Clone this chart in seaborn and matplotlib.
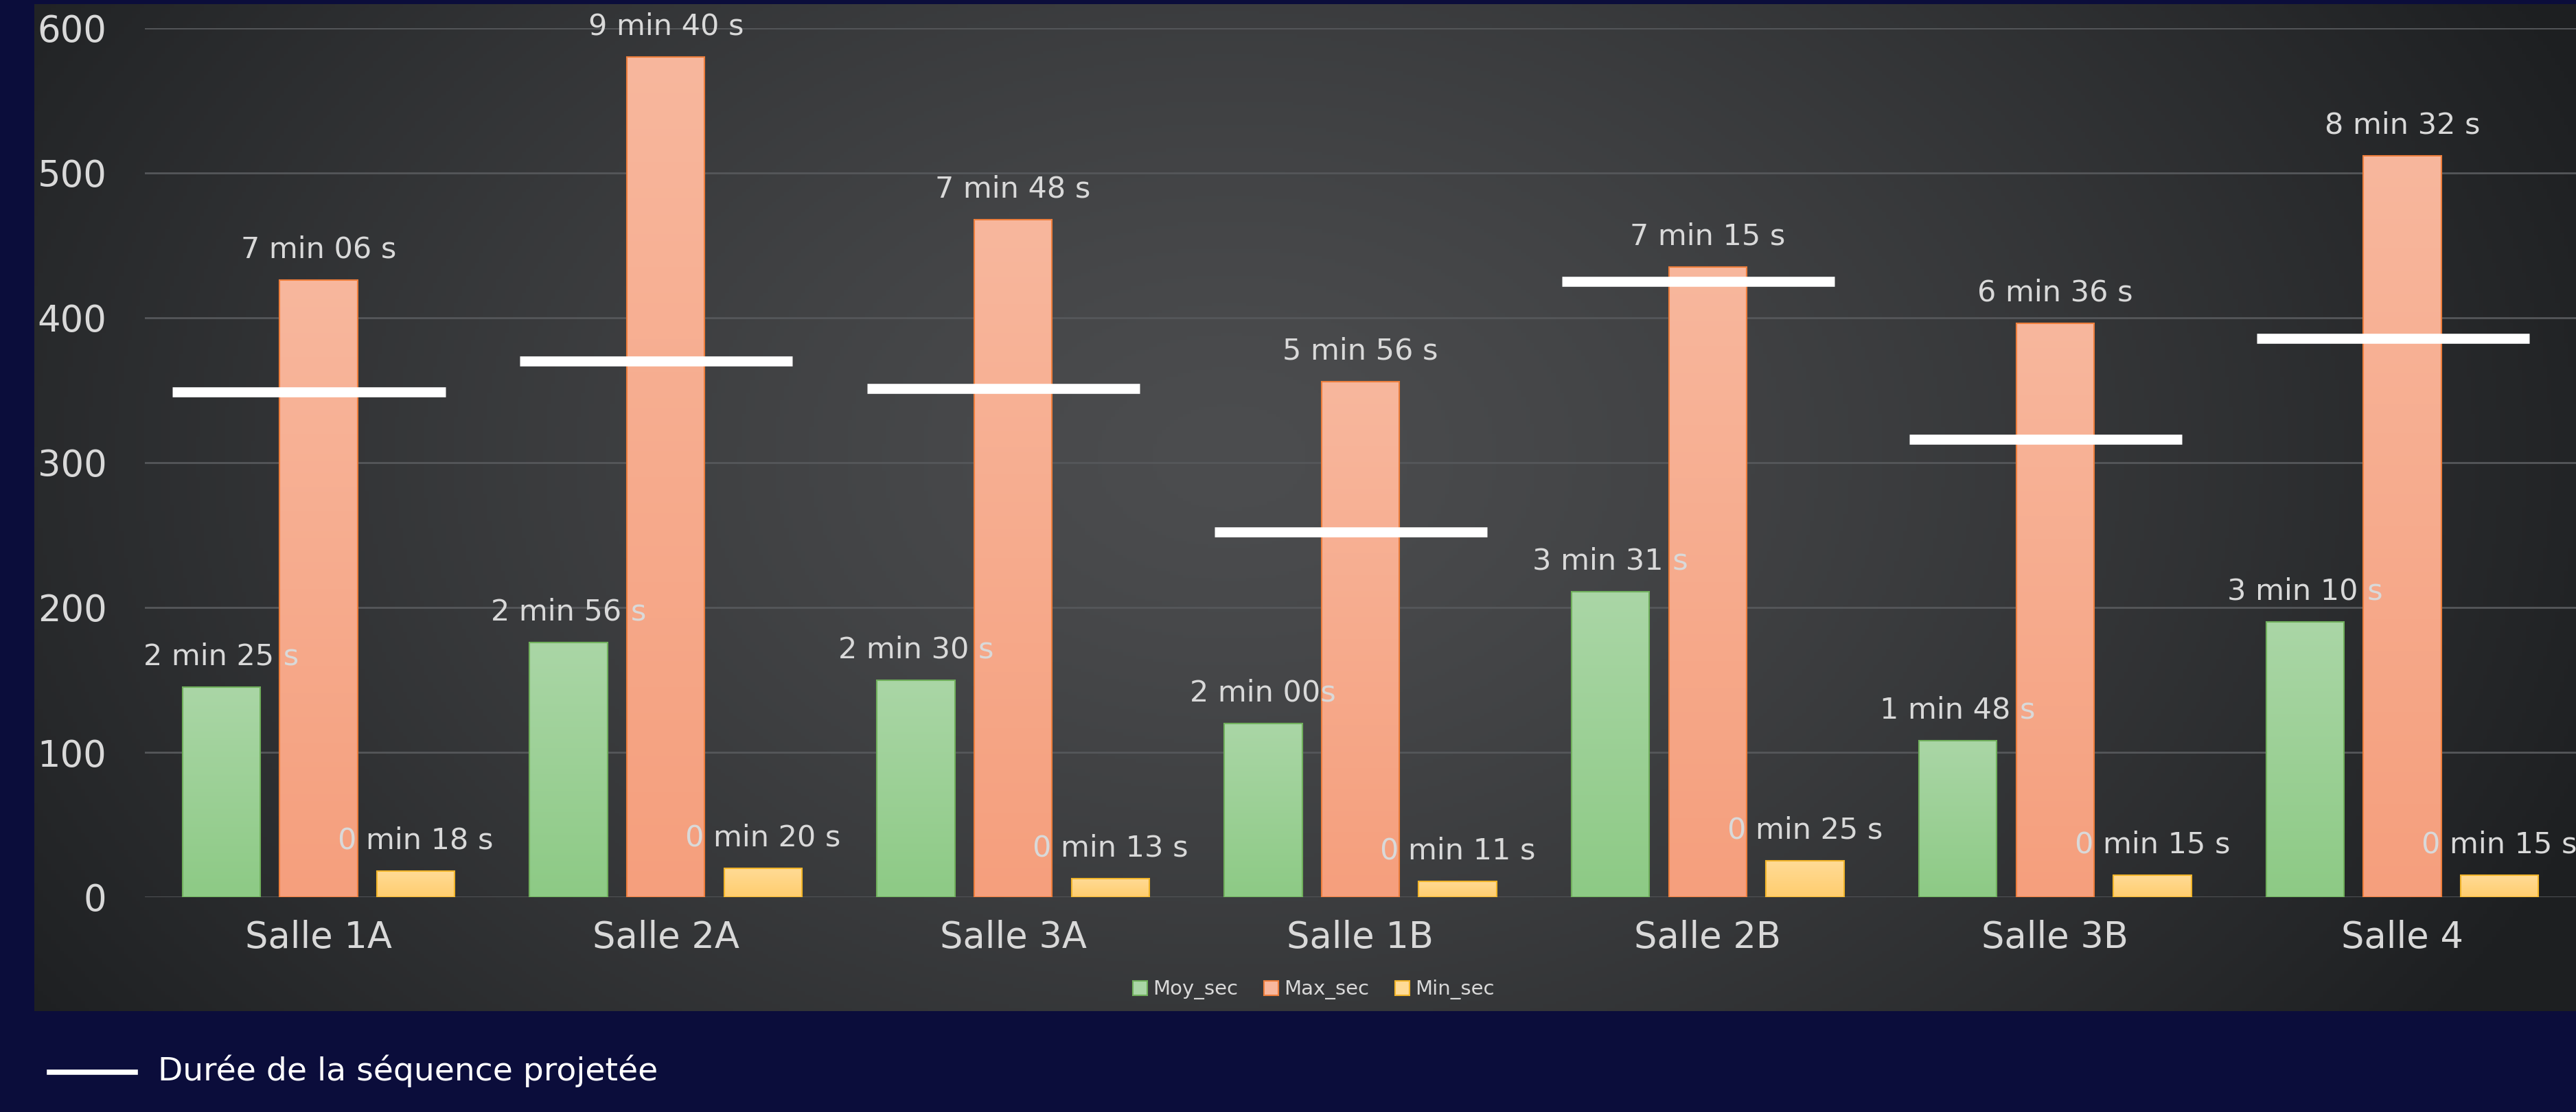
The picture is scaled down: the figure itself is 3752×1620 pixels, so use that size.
import numpy as np
import pandas as pd
import seaborn as sns
import matplotlib.pyplot as plt
from matplotlib.colors import LinearSegmentedColormap
from matplotlib.patches import Patch
from matplotlib.lines import Line2D

# Data (durations in seconds)
salles = ["Salle 1A", "Salle 2A", "Salle 3A", "Salle 1B", "Salle 2B", "Salle 3B", "Salle 4"]
series = ["Moy_sec", "Max_sec", "Min_sec"]
moy_sec = [145, 176, 150, 120, 211, 108, 190]
max_sec = [426, 580, 468, 356, 435, 396, 512]
min_sec = [18, 20, 13, 11, 25, 15, 15]
sequence_sec = [349, 370, 351, 252, 425, 316, 386]

moy_labels = ["2 min 25 s", "2 min 56 s", "2 min 30 s", "2 min 00s", "3 min 31 s", "1 min 48 s", "3 min 10 s"]
max_labels = ["7 min 06 s", "9 min 40 s", "7 min 48 s", "5 min 56 s", "7 min 15 s", "6 min 36 s", "8 min 32 s"]
min_labels = ["0 min 18 s", "0 min 20 s", "0 min 13 s", "0 min 11 s", "0 min 25 s", "0 min 15 s", "0 min 15 s"]
line_label = "Durée de la séquence projetée"

df = pd.DataFrame({
    "salle": salles * 3,
    "serie": [s for s in series for _ in salles],
    "sec": moy_sec + max_sec + min_sec,
})
all_labels = [moy_labels, max_labels, min_labels]

# colours: bottom, top, edge
bar_colors = {
    "Moy_sec": ("#8dca85", "#aad6a6", "#70b05c"),
    "Max_sec": ("#f59f7d", "#f8b79d", "#ee7e3c"),
    "Min_sec": ("#ffcd6e", "#ffdb96", "#f2b52a"),
}

plt.rcParams['font.family'] = ['DejaVu Sans']
W, H = 3752, 1620
fig = plt.figure(figsize=(W / 100, H / 100), dpi=100, facecolor="#0b0d3b")

# dark radial background panel
bg = fig.add_axes([50 / W, 1 - 1473 / H, (W - 50) / W, (1473 - 6) / H])
gx, gy = np.meshgrid(np.linspace(0, 1, 600), np.linspace(0, 1, 300))
d = np.sqrt(((gx - 0.47) / 0.58) ** 2 + ((gy - 0.45) / 1.0) ** 2)
d = np.clip(d, 0, 1) ** 1.3
c0 = np.array([0x4c, 0x4d, 0x4f]) / 255
c1 = np.array([0x1d, 0x1f, 0x21]) / 255
img = c0[None, None, :] * (1 - d[..., None]) + c1[None, None, :] * d[..., None]
bg.imshow(img, aspect='auto', extent=[0, 1, 0, 1])
bg.axis('off')

ax = fig.add_axes([211 / W, 1 - 1307 / H, 1 - 211 / W, (1307 - 41) / H])
ax.set_facecolor('none')
ax.set_zorder(2)

sns.barplot(data=df, x="salle", y="sec", hue="serie", order=salles, hue_order=series,
            palette=[bar_colors[s][0] for s in series], saturation=1, width=0.84, gap=0.2,
            errorbar=None, legend=False, ax=ax)

grad = np.linspace(0, 1, 256).reshape(-1, 1)
for p in list(ax.patches):
    w = p.get_width()
    h = p.get_height()
    if w <= 0:
        continue
    x0 = p.get_x()
    cx = x0 + w / 2
    k = int(round((cx - round(cx)) / 0.28)) + 1
    bot, top, edge = bar_colors[series[k]]
    cmap = LinearSegmentedColormap.from_list("g", [bot, top])
    ax.imshow(grad, extent=[x0, x0 + w, 0, h], origin='lower', aspect='auto', cmap=cmap, zorder=2)
    p.set_facecolor('none')
    p.set_edgecolor(edge)
    p.set_linewidth(1.5)
    p.set_zorder(3)
    i = int(round(cx))
    ax.annotate(all_labels[k][i], (cx, h), xytext=(0, 32), textcoords='offset points',
                ha='center', va='center', color='#d9d9d9', fontsize=31, zorder=5,
                annotation_clip=False)

# projected sequence duration
xs = np.arange(len(salles))
ax.hlines(sequence_sec, xs - 0.42, xs + 0.365, color='white', lw=10.5, zorder=4)

ax.set_xlim(-0.5, 6.5)
ax.set_ylim(0, 600)
ax.set_yticks(range(0, 601, 100))
ax.set_xlabel("")
ax.set_ylabel("")
ax.yaxis.grid(True, color='#55575a', lw=2)
ax.xaxis.grid(False)
ax.set_axisbelow(True)
for s in ax.spines.values():
    s.set_visible(False)
ax.tick_params(axis='y', labelcolor='#d9d9d9', labelsize=38, length=0, pad=40)
ax.tick_params(axis='x', labelcolor='#d9d9d9', labelsize=38, length=0, pad=24)

handles = [Patch(facecolor=bar_colors[s][1], edgecolor=bar_colors[s][2], lw=1.5) for s in series]
fig.legend(handles, series, loc='center', bbox_to_anchor=(0.51, 1 - 1442 / H), ncol=3,
           frameon=False, fontsize=21, labelcolor='#d9d9d9', handlelength=0.7,
           handleheight=0.7, handletextpad=0.3, columnspacing=1.3)

fig.add_artist(Line2D([72 / W, 197 / W], [1 - 1562 / H] * 2, color='white', lw=5.5,
                      transform=fig.transFigure))
fig.text(230 / W, 1 - 1560 / H, line_label, color='white', fontsize=34, va='center')

fig.savefig("out.png", dpi=100, facecolor=fig.get_facecolor())
